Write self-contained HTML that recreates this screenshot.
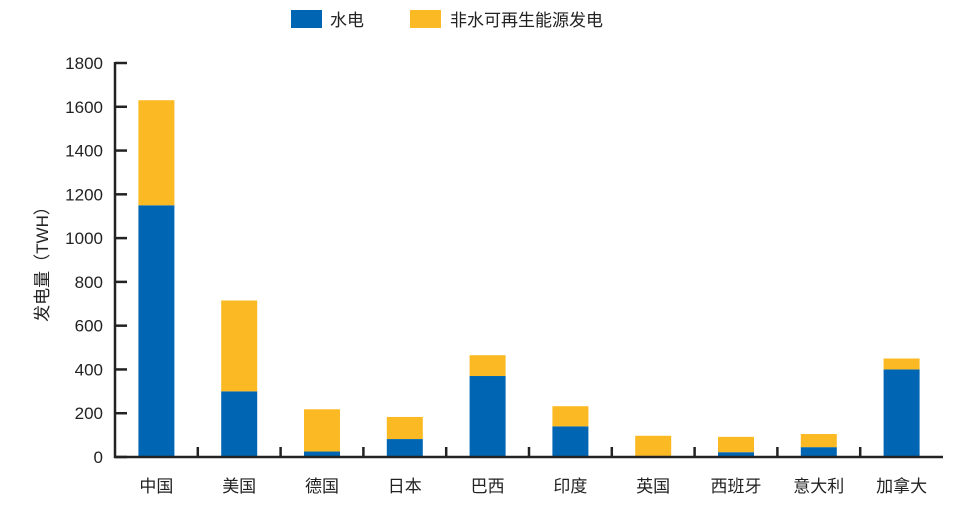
<!DOCTYPE html>
<html><head><meta charset="utf-8"><style>
body{margin:0;background:#fff;}
svg{display:block;font-family:"Liberation Sans","Noto Sans CJK SC",sans-serif;}
</style></head><body>
<svg id="chart" width="957" height="521" viewBox="0 0 957 521">
<g>
<rect x="291" y="10" width="31" height="18" fill="#0066b3"/>
<text x="330" y="26" font-size="17" fill="#222">水电</text>
<rect x="410" y="10" width="31" height="18" fill="#fbb923"/>
<text x="450" y="26" font-size="17" fill="#222">非水可再生能源发电</text>
</g>
<text transform="translate(48,260) rotate(-90)" text-anchor="middle" font-size="17" fill="#222">发电量（TWH）</text>
<g id="plot"></g>
</svg>
<script>
const categories=["中国","美国","德国","日本","巴西","印度","英国","西班牙","意大利","加拿大"];
const hydro=[1150,300,25,82,370,140,5,22,45,400];
const nonHydro=[480,415,193,101,95,92,92,70,60,50];
const yTicks=[0,200,400,600,800,1000,1200,1400,1600,1800];
const NS="http://www.w3.org/2000/svg";
const plot=document.getElementById('plot');
const x0=115,x1=943,y0=457,yTop=63,yMax=1800;
const band=(x1-x0)/categories.length;
const y=v=>y0-(v/yMax)*(y0-yTop);
const xc=i=>x0+band*(i+0.5);
function mk(tag,attrs){const e=document.createElementNS(NS,tag);for(const k in attrs)e.setAttribute(k,attrs[k]);plot.appendChild(e);return e;}
categories.forEach((c,i)=>{
  const bw=36;
  const b1=mk('rect',{x:xc(i)-bw/2,y:y(hydro[i]),width:bw,height:y0-y(hydro[i]),fill:'#0066b3'});
  
  
  const tot=hydro[i]+nonHydro[i];
  const b2=mk('rect',{x:xc(i)-bw/2,y:y(tot),width:bw,height:y(hydro[i])-y(tot),fill:'#fbb923'});
  
  
  const t=mk('text',{x:xc(i),y:492,'text-anchor':'middle','font-size':17,fill:'#222'});
  t.textContent=c;
  
  
  if(i>0){const tk=mk('line',{x1:x0+band*i,x2:x0+band*i,y1:y0,y2:y0-10,stroke:'#222','stroke-width':2.5});
  
  }
});
yTicks.forEach(v=>{
  const tk=mk('line',{x1:x0,x2:x0+12,y1:y(v),y2:y(v),stroke:'#222','stroke-width':2.5});
  
  
  const t=mk('text',{x:103,y:y(v)+6,'text-anchor':'end','font-size':17,fill:'#222'});
  t.textContent=v;
  
  
});
const ya=mk('line',{x1:x0,x2:x0,y1:yTop-1,y2:y0+1,stroke:'#222','stroke-width':2.5});


const xa=mk('line',{x1:x0-1,x2:x1,y1:y0,y2:y0,stroke:'#222','stroke-width':2.5});


</script>
</body></html>
